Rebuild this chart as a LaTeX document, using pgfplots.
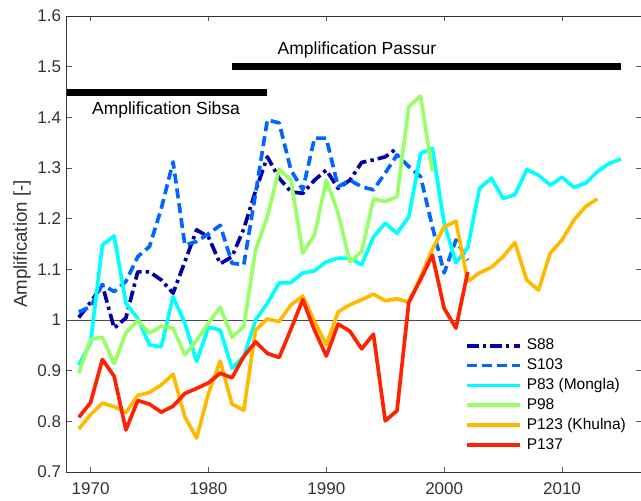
\documentclass[border=0pt]{standalone}
\usepackage{fontspec}
\setmainfont{Liberation Sans}
\usepackage{pgfplots}
\pgfplotsset{compat=1.18}

\definecolor{cSa}{rgb}{0,0,0.65}
\definecolor{cSb}{rgb}{0,0.4,1}
\definecolor{cPa}{rgb}{0,1,1}
\definecolor{cPb}{rgb}{0.6,1,0.4}
\definecolor{cPc}{rgb}{1,0.73,0}
\definecolor{cPd}{rgb}{1,0.13,0}

\begin{document}
\begin{tikzpicture}
\useasboundingbox (-40.2pt,-16.8pt) rectangle (344.4pt,283.2pt);
\begin{axis}[
  at={(0pt,0pt)}, anchor=south west,
  scale only axis, width=344.4pt, height=273.6pt,
  xmin=1968, xmax=2016.7, ymin=0.7, ymax=1.6,
  xtick={1970,1980,1990,2000,2010},
  ytick={0.7,0.8,0.9,1,1.1,1.2,1.3,1.4,1.5,1.6},
  /pgf/number format/assume math mode=true,
  xticklabel style={/pgf/number format/1000 sep={}, yshift=-3pt},
  ticklabel style={font=\fontsize{10.2}{12}\selectfont, text=black!80},
  tick align=inside, major tick length=3.2pt,
  tick style={black!65, line width=0.5pt},
  axis line style={black!80, line width=0.6pt},
  ylabel={Amplification [-]},
  ylabel style={at={(axis description cs:-0.0785,0.5)}, anchor=center,
    font=\fontsize{11.2}{13}\selectfont, text=black!80},
  legend cell align=left,
  legend image code/.code={\draw[#1] (0pt,0pt) -- (31.8pt,0pt);},
  legend style={at={(axis description cs:0.693,0.294)}, anchor=north west,
    draw=none, fill=none, inner sep=0pt, row sep=2.9pt, column sep=3pt,
    font=\fontsize{9.3}{11}\selectfont,
    nodes={inner sep=0pt, text height=7pt, text depth=2pt}},
  every axis plot/.append style={line width=2.2pt, line join=round},
]

% reference line and amplification bars
\addplot[forget plot, black!70, line width=0.6pt] coordinates {(1968,1) (2016.7,1)};
\addplot[forget plot, black, line width=4.2pt] coordinates {(1982,1.5) (2015,1.5)};
\addplot[forget plot, black, line width=4.2pt] coordinates {(1968,1.45) (1985,1.45)};

\addplot[cSa, dash pattern=on 7pt off 2.5pt on 2pt off 2.5pt] table {
1969 1.005
1970 1.035
1971 1.069
1972 0.984
1973 1.004
1974 1.095
1975 1.095
1976 1.079
1977 1.053
1978 1.115
1979 1.178
1980 1.164
1981 1.111
1982 1.125
1983 1.18
1984 1.255
1985 1.322
1986 1.28
1987 1.253
1988 1.25
1989 1.276
1990 1.296
1991 1.26
1992 1.276
1993 1.311
1994 1.316
1995 1.322
1996 1.339
};
\addlegendentry{S88}

\addplot[cSb, dash pattern=on 6pt off 3pt] table {
1969 1.016
1970 1.026
1971 1.07
1972 1.056
1973 1.076
1974 1.125
1975 1.145
1976 1.22
1977 1.312
1978 1.148
1979 1.155
1980 1.17
1981 1.187
1982 1.112
1983 1.109
1984 1.25
1985 1.395
1986 1.389
1987 1.296
1988 1.257
1989 1.359
1990 1.359
1991 1.263
1992 1.276
1993 1.263
1994 1.257
1995 1.29
1996 1.326
1997 1.303
1998 1.283
1999 1.184
2000 1.093
2001 1.158
2002 1.118
};
\addlegendentry{S103}

\addplot[cPa] table {
1969 0.911
1970 0.955
1971 1.148
1972 1.166
1973 1.033
1974 1.003
1975 0.951
1976 0.947
1977 1.046
1978 0.994
1979 0.918
1980 0.986
1981 0.98
1982 0.905
1983 0.928
1984 1.0
1985 1.033
1986 1.073
1987 1.074
1988 1.093
1989 1.097
1990 1.115
1991 1.122
1992 1.122
1993 1.109
1994 1.164
1995 1.191
1996 1.171
1997 1.204
1998 1.329
1999 1.339
2000 1.191
2001 1.113
2002 1.143
2003 1.26
2004 1.28
2005 1.24
2006 1.247
2007 1.297
2008 1.286
2009 1.266
2010 1.282
2011 1.262
2012 1.27
2013 1.293
2014 1.309
2015 1.318
};
\addlegendentry{P83 (Mongla)}

\addplot[cPb] table {
1969 0.895
1970 0.962
1971 0.966
1972 0.914
1973 0.975
1974 0.999
1975 0.974
1976 0.988
1977 0.984
1978 0.931
1979 0.96
1980 0.994
1981 1.025
1982 0.966
1983 0.987
1984 1.138
1985 1.204
1986 1.298
1987 1.276
1988 1.132
1989 1.168
1990 1.276
1991 1.211
1992 1.115
1993 1.135
1994 1.239
1995 1.234
1996 1.243
1997 1.421
1998 1.442
1999 1.293
};
\addlegendentry{P98}

\addplot[cPc] table {
1969 0.785
1970 0.813
1971 0.836
1972 0.829
1973 0.817
1974 0.851
1975 0.857
1976 0.872
1977 0.893
1978 0.809
1979 0.767
1980 0.855
1981 0.919
1982 0.834
1983 0.822
1984 0.98
1985 1.002
1986 0.997
1987 1.03
1988 1.047
1989 0.997
1990 0.951
1991 1.016
1992 1.03
1993 1.04
1994 1.051
1995 1.038
1996 1.042
1997 1.035
1998 1.085
1999 1.14
2000 1.184
2001 1.195
2002 1.076
2003 1.093
2004 1.104
2005 1.125
2006 1.153
2007 1.079
2008 1.059
2009 1.132
2010 1.158
2011 1.197
2012 1.224
2013 1.239
};
\addlegendentry{P123 (Khulna)}

\addplot[cPd] table {
1969 0.808
1970 0.837
1971 0.922
1972 0.889
1973 0.783
1974 0.841
1975 0.834
1976 0.818
1977 0.83
1978 0.855
1979 0.865
1980 0.876
1981 0.895
1982 0.886
1983 0.928
1984 0.957
1985 0.934
1986 0.926
1987 0.982
1988 1.04
1989 0.98
1990 0.929
1991 0.992
1992 0.978
1993 0.943
1994 0.972
1995 0.801
1996 0.821
1997 1.035
1998 1.08
1999 1.128
2000 1.023
2001 0.984
2002 1.095
};
\addlegendentry{P137}

\node[font=\fontsize{10.5}{12}\selectfont] at (axis cs:1992.6,1.533) {Amplification Passur};
\node[font=\fontsize{10.5}{12}\selectfont] at (axis cs:1976.4,1.4145) {Amplification Sibsa};
\end{axis}
\end{tikzpicture}
\end{document}
